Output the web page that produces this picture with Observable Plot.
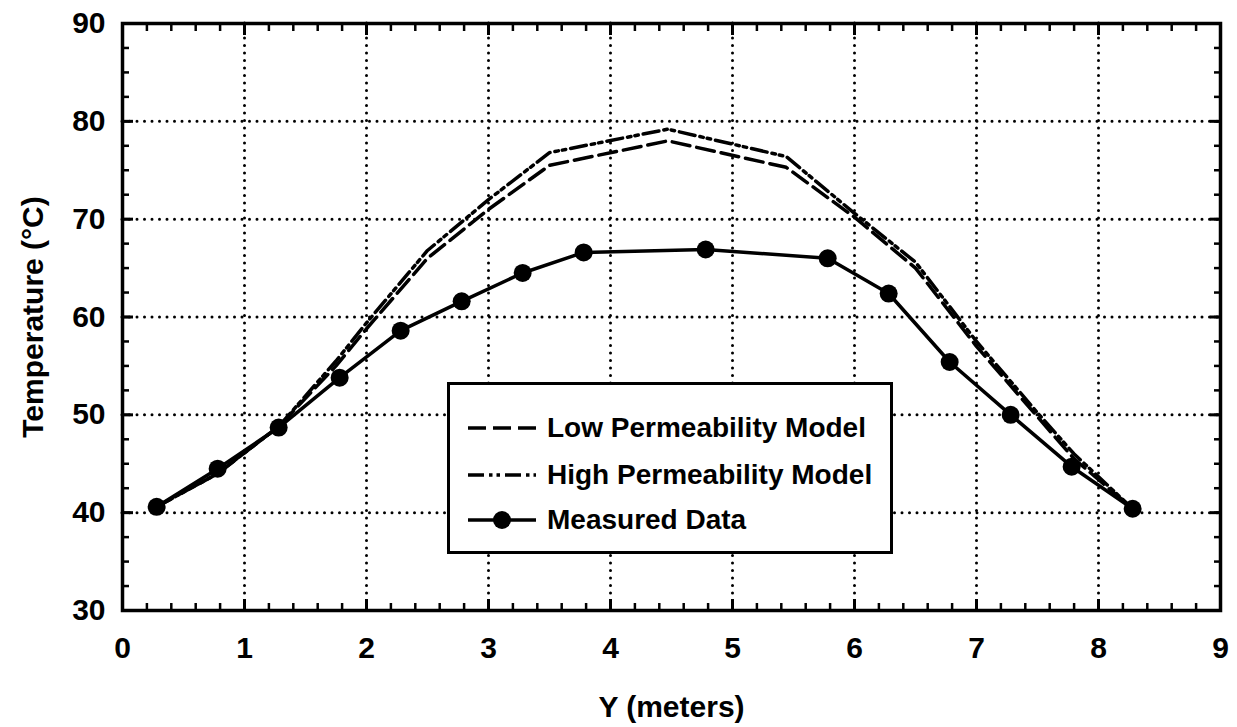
<!DOCTYPE html>
<html><head><meta charset="utf-8">
<script src="https://cdn.jsdelivr.net/npm/d3@7"></script>
<script src="https://cdn.jsdelivr.net/npm/@observablehq/plot@0.6"></script>
<style>
body{margin:0;background:#fff;}
#wrap{position:relative;width:1237px;height:727px;font-family:"Liberation Sans",Arial,Helvetica,sans-serif;}
#legend{position:absolute;left:447px;top:382px;width:446px;height:172px;border:3px solid #000;background:#fff;box-sizing:border-box;}
.row{position:absolute;left:16px;height:30px;display:flex;align-items:center;font-size:28px;font-weight:bold;color:#000;white-space:nowrap;}
.row svg{margin-right:9px;}
</style></head><body><div id="wrap"></div>
<script>
// ---- data ----
const measuredY_m = [0.28, 0.78, 1.28, 1.78, 2.28, 2.78, 3.28, 3.78, 4.78, 5.78, 6.28, 6.78, 7.28, 7.78, 8.28];
const measuredTemp = [40.6, 44.5, 48.7, 53.8, 58.6, 61.6, 64.5, 66.6, 66.9, 66.0, 62.4, 55.4, 50.0, 44.7, 40.4];

const lowY_m =  [0.28, 0.78, 1.28, 1.75, 2.0, 2.5, 3.0, 3.5, 4.47, 5.44, 6.0, 6.5, 7.0, 7.5, 7.8, 8.28];
const lowTemp = [40.6, 44.0, 48.8, 55.0, 58.8, 66.0, 71.0, 75.5, 78.0, 75.3, 70.2, 65.0, 57.0, 49.8, 45.5, 40.4];

const highY_m =  [0.28, 0.78, 1.28, 1.75, 2.0, 2.5, 3.0, 3.5, 4.47, 5.44, 6.0, 6.5, 7.0, 7.5, 7.8, 8.28];
const highTemp = [40.6, 44.0, 48.8, 55.5, 59.4, 66.8, 72.0, 76.8, 79.2, 76.4, 70.6, 65.6, 57.5, 50.2, 46.0, 40.4];

const xTicks = [0, 1, 2, 3, 4, 5, 6, 7, 8, 9];
const yTicks = [30, 40, 50, 60, 70, 80, 90];
const xMinor = d3.range(0, 9.0001, 0.2);
const yMinor = d3.range(30, 90.0001, 2.5);

const seriesNames = ["Low Permeability Model", "High Permeability Model", "Measured Data"];
const xTitle = "Y (meters)";
const yTitle = "Temperature (°C)";

const measured = measuredY_m.map((x, i) => ({x, t: measuredTemp[i]}));
const low = lowY_m.map((x, i) => ({x, t: lowTemp[i]}));
const high = highY_m.map((x, i) => ({x, t: highTemp[i]}));

const lowDash = "18,7";
const highDash = "16,5,3.5,4,3.5,5";

const gridStyle = {stroke: "#000", strokeOpacity: 1, strokeWidth: 3, strokeDasharray: "0,7.5", strokeLinecap: "round"};

const chart = Plot.plot({
  width: 1237, height: 727,
  marginLeft: 122, marginRight: 17, marginTop: 23, marginBottom: 117,
  style: {fontFamily: '"Liberation Sans", Arial, Helvetica, sans-serif', fontSize: "29px", fontWeight: "bold", color: "#000", background: "#fff", overflow: "visible"},
  x: {domain: [0, 9]},
  y: {domain: [30, 90]},
  marks: [
    Plot.gridX(xTicks.slice(1, -1), gridStyle),
    Plot.gridY(yTicks.slice(1, -1), gridStyle),
    Plot.axisX(xMinor, {anchor: "bottom", tickSize: -7, text: null, label: null, strokeWidth: 2.5}),
    Plot.axisX(xMinor, {anchor: "top", tickSize: -7, text: null, label: null, strokeWidth: 2.5}),
    Plot.axisY(yMinor, {anchor: "left", tickSize: -7, text: null, label: null, strokeWidth: 2.5}),
    Plot.axisY(yMinor, {anchor: "right", tickSize: -7, text: null, label: null, strokeWidth: 2.5}),
    Plot.axisX(xTicks, {anchor: "bottom", tickSize: -11, tickPadding: 37, strokeWidth: 3, tickFormat: d => String(d),
      fontSize: 30, label: xTitle, labelAnchor: "center", labelOffset: 106, labelArrow: "none"}),
    Plot.axisX(xTicks, {anchor: "top", tickSize: -11, text: null, label: null, strokeWidth: 3}),
    Plot.axisY(yTicks, {anchor: "left", tickSize: -11, tickPadding: 28, strokeWidth: 3, tickFormat: d => String(d),
      fontSize: 30, label: yTitle, labelAnchor: "center", labelOffset: 101, labelArrow: "none"}),
    Plot.axisY(yTicks, {anchor: "right", tickSize: -11, text: null, label: null, strokeWidth: 3}),
    Plot.frame({stroke: "#000", strokeWidth: 3.5}),
    Plot.line(low, {x: "x", y: "t", stroke: "#000", strokeWidth: 3.5, strokeDasharray: lowDash}),
    Plot.line(high, {x: "x", y: "t", stroke: "#000", strokeWidth: 3.5, strokeDasharray: highDash}),
    Plot.line(measured, {x: "x", y: "t", stroke: "#000", strokeWidth: 3.5}),
    Plot.dot(measured, {x: "x", y: "t", r: 9, fill: "#000", stroke: "none"})
  ]
});

const wrap = document.getElementById("wrap");
wrap.appendChild(chart);

// legend overlay
const legend = document.createElement("div");
legend.id = "legend";
wrap.appendChild(legend);
const rowTops = [28, 75, 120];
const styles = [
  {dash: lowDash, marker: false},
  {dash: highDash, marker: false},
  {dash: null, marker: true}
];
seriesNames.forEach((name, i) => {
  const row = document.createElement("div");
  row.className = "row";
  row.style.top = rowTops[i] + "px";
  const st = styles[i];
  row.innerHTML = `<svg width="72" height="30"><line x1="2" x2="70" y1="15" y2="15" stroke="#000" stroke-width="3.5" ${st.dash ? `stroke-dasharray="${st.dash}"` : ""}/>${st.marker ? '<circle cx="36" cy="15" r="9" fill="#000"/>' : ""}</svg><span>${name}</span>`;
  legend.appendChild(row);
});
</script>
</body></html>
